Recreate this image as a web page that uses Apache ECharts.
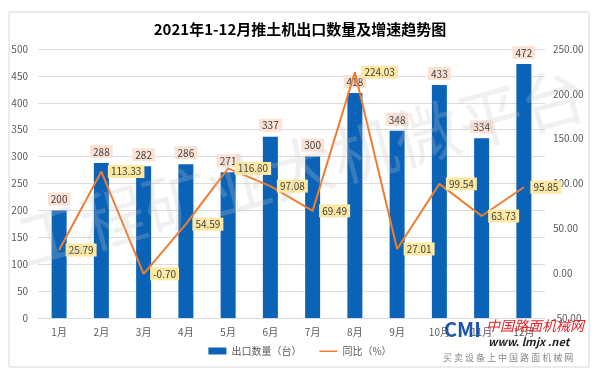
<!DOCTYPE html>
<html>
<head>
<meta charset="utf-8">
<script src="https://cdn.jsdelivr.net/npm/echarts@6/dist/echarts.min.js"></script>
<style>html,body{margin:0;padding:0;background:#fff}#c{width:600px;height:380px}</style>
</head>
<body>
<div id="c"></div>
<script>
const titleText = '2021年1-12月推土机出口数量及增速趋势图';
const months = ['1月','2月','3月','4月','5月','6月','7月','8月','9月','10月','11月','12月'];
const exportQty = [200, 288, 282, 286, 271, 337, 300, 418, 348, 433, 334, 472];
const yoyGrowth = [25.79, 113.33, -0.70, 54.59, 116.80, 97.08, 69.49, 224.03, 27.01, 99.54, 63.73, 95.85];
const barName = '出口数量（台）';
const lineName = '同比（%）';
const watermarkText = '工程矿业大机微平台';

const font = '"Noto Sans CJK SC", "Microsoft YaHei", sans-serif';
const chart = echarts.init(document.getElementById('c'), null, {renderer: 'canvas'});
chart.setOption({
  backgroundColor: '#fff',
  animation: false,
  textStyle: {fontFamily: font},
  title: {
    text: titleText, left: 'center', top: 17,
    textStyle: {fontSize: 15, fontWeight: 'bold', color: '#000', fontFamily: font}
  },
  grid: {left: 38, right: 55, top: 49, bottom: 62, containLabel: false},
  legend: {
    bottom: 19, left: 'center', itemGap: 18,
    textStyle: {fontSize: 10, color: '#595959'},
    data: [
      {name: barName, icon: 'rect', itemStyle: {color: '#0b63b8'}},
      {name: lineName, icon: 'path://M0,3 L20,3 L20,4.6 L0,4.6 Z M0,0 L0.01,0 M0,7 L0.01,7', itemStyle: {color: '#ed7d31'}}
    ],
    itemWidth: 18, itemHeight: 7
  },
  xAxis: {
    type: 'category', data: months,
    axisLine: {lineStyle: {color: '#d9d9d9'}},
    axisTick: {show: false},
    axisLabel: {color: '#595959', fontSize: 10, margin: 9}
  },
  yAxis: [
    {type: 'value', min: 0, max: 500, interval: 50,
     axisLine: {show: false}, axisTick: {show: false},
     splitLine: {lineStyle: {color: '#dcdcdc'}},
     axisLabel: {color: '#595959', fontSize: 10, margin: 10}},
    {type: 'value', min: -50, max: 250, interval: 50,
     axisLine: {show: false}, axisTick: {show: false},
     splitLine: {show: false},
     axisLabel: {color: '#595959', fontSize: 10, margin: 8,
       formatter: v => v.toFixed(2)}}
  ],
  series: [
    {
      name: barName, type: 'bar', data: exportQty, barWidth: 15,
      itemStyle: {color: '#0b63b8'},
      label: {show: true, position: 'top', distance: 5, color: '#404040', fontSize: 10,
        backgroundColor: '#fbe2d5', padding: [2, 3, 1, 3]}
    },
    {
      name: lineName, type: 'line', yAxisIndex: 1, data: yoyGrowth,
      symbol: 'circle', symbolSize: 1, showSymbol: true,
      lineStyle: {color: '#ed7d31', width: 2},
      itemStyle: {color: '#ed7d31'},
      z: 5,
      label: {show: true, position: 'right', distance: 6, color: '#404040', fontSize: 10,
        backgroundColor: '#fde9a3', padding: [2, 3, 1, 3],
        formatter: p => p.value.toFixed(2)}
    }
  ],
  graphic: [
    {type: 'rect', shape: {x: 9, y: 12, width: 580, height: 355},
     style: {fill: 'none', stroke: '#d9d9d9', lineWidth: 1}, z: -1, silent: true},
    {type: 'text', x: 19, y: 243, rotation: 15 * Math.PI / 180, z: 100, silent: true,
     style: {text: watermarkText, fontSize: 65, fill: 'rgba(195,195,195,0.25)', fontFamily: font,
       textVerticalAlign: 'middle'}},
    {type: 'text', x: 486, y: 319, z: 101, silent: true,
     style: {text: '中国路面机械网', fontSize: 14, fontStyle: 'italic', fill: '#e8232a', fontFamily: font}},
    {type: 'text', x: 488, y: 336, z: 101, silent: true,
     style: {text: 'www. lmjx .net', fontSize: 11, fontStyle: 'italic', fontWeight: 'bold', fill: '#222', fontFamily: font}},
    {type: 'text', x: 443, y: 353, z: 101, silent: true,
     style: {text: '买 卖 设 备 上 中 国 路 面 机 械 网', fontSize: 9, fill: '#888', fontFamily: font}},
    {type: 'text', x: 444, y: 319, z: 101, silent: true,
     style: {text: 'CMI', fontSize: 20, fontWeight: 'bold', fill: '#1f56a8', fontFamily: font}}
  ]
});
</script>
</body>
</html>
